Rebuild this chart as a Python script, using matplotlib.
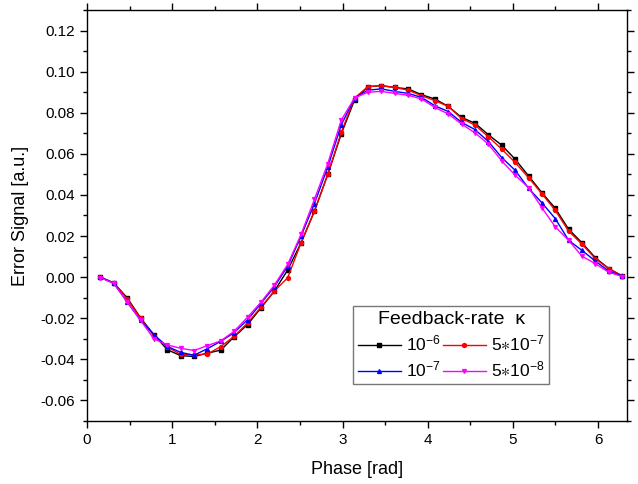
import numpy as np
import matplotlib
matplotlib.use("Agg")
import matplotlib.pyplot as plt
from matplotlib.ticker import MultipleLocator

plt.rcParams['font.family'] = ['Liberation Sans', 'DejaVu Sans']
plt.rcParams['mathtext.fontset'] = 'custom'
plt.rcParams['mathtext.rm'] = 'Liberation Sans'
plt.rcParams['mathtext.it'] = 'Liberation Sans:italic'
plt.rcParams['mathtext.fallback'] = 'stix'

phase = np.arange(1, 41) * np.pi / 20

k_1e6 = [0.000, -0.0028, -0.010, -0.0198, -0.028, -0.0353, -0.0382, -0.0386, -0.037, -0.0355,
         -0.029, -0.0231, -0.015, -0.0068, 0.0035, 0.0167, 0.0322, 0.0501, 0.0696, 0.0863,
         0.0927, 0.0932, 0.0923, 0.0916, 0.0888, 0.0867, 0.0831, 0.0777, 0.0749, 0.0693,
         0.0642, 0.0574, 0.0493, 0.0411, 0.0335, 0.0233, 0.0167, 0.0094, 0.0042, 0.0006]
k_5e7 = [0.000, -0.0028, -0.0105, -0.020, -0.0285, -0.034, -0.0376, -0.0378, -0.0374, -0.0338,
         -0.0288, -0.0223, -0.0146, -0.0068, -0.0003, 0.0167, 0.032, 0.050, 0.0704, 0.0872,
         0.0927, 0.0932, 0.0923, 0.091, 0.0883, 0.0859, 0.0831, 0.0772, 0.074, 0.0683,
         0.0623, 0.0558, 0.0484, 0.0406, 0.0325, 0.0224, 0.016, 0.009, 0.004, 0.0006]
k_1e7 = [0.000, -0.003, -0.012, -0.021, -0.028, -0.0337, -0.0366, -0.038, -0.0348, -0.0312,
         -0.027, -0.0207, -0.0128, -0.0047, 0.0054, 0.020, 0.0358, 0.0537, 0.074, 0.0872,
         0.091, 0.0916, 0.0904, 0.0894, 0.0875, 0.0834, 0.0806, 0.0753, 0.0718, 0.066,
         0.0582, 0.052, 0.0433, 0.0362, 0.0285, 0.0179, 0.013, 0.0078, 0.0029, 0.0006]
k_5e8 = [-0.0003, -0.003, -0.012, -0.021, -0.030, -0.033, -0.0346, -0.0357, -0.0333, -0.031,
         -0.0263, -0.0195, -0.0122, -0.0039, 0.0062, 0.0208, 0.0379, 0.0553, 0.0764, 0.0872,
         0.0900, 0.0904, 0.0894, 0.0885, 0.0867, 0.0826, 0.0794, 0.0745, 0.0702, 0.0647,
         0.0566, 0.0496, 0.0436, 0.0338, 0.0245, 0.0179, 0.0102, 0.0065, 0.0024, 0.0003]

labels = [r'$\mathregular{10^{-6}}$', r'$\mathregular{5{\ast}10^{-7}}$',
          r'$\mathregular{10^{-7}}$', r'$\mathregular{5{\ast}10^{-8}}$']
colors = ['black', 'red', 'blue', 'magenta']
markers = ['s', 'o', '^', 'v']
yticks = [-0.06, -0.04, -0.02, 0.00, 0.02, 0.04, 0.06, 0.08, 0.10, 0.12]

fig = plt.figure(figsize=(6.38, 4.84), dpi=100)
ax = fig.add_axes([87/638, (484-421)/484, 540/638, 411/484])

series = [k_1e6, k_5e7, k_1e7, k_5e8]
handles = []
for ys, c, m, lab in zip(series, colors, markers, labels):
    h, = ax.plot(phase, ys, color=c, marker=m, markersize=2.8, linewidth=1.0, label=lab)
    handles.append(h)

ax.set_xlim(0, 6.34)
ax.set_ylim(-0.07, 0.13)
ax.xaxis.set_major_locator(MultipleLocator(1))
ax.xaxis.set_minor_locator(MultipleLocator(0.5))
ax.set_yticks(yticks)
ax.set_yticklabels(['%.2f' % v for v in yticks])
ax.yaxis.set_minor_locator(MultipleLocator(0.01))
ax.tick_params(which='both', direction='out', top=True, right=True, labelsize=11, width=1.0)
ax.tick_params(which='major', length=5)
ax.tick_params(which='minor', length=3)
for s in ax.spines.values():
    s.set_linewidth(1.0)

ax.set_xlabel('Phase [rad]', fontsize=13, labelpad=10)
ax.set_ylabel('Error Signal [a.u.]', fontsize=13, labelpad=8)

order = [0, 2, 1, 3]
leg = ax.legend(handles=[handles[i] for i in order], ncol=2, title='Feedback-rate  κ',
                fontsize=12.5, title_fontsize=14, loc='lower left',
                bbox_to_anchor=(0.493, 0.09), borderaxespad=0,
                frameon=True, fancybox=False, edgecolor='#555555', handlelength=2.5,
                columnspacing=0.1, handletextpad=0.3, borderpad=0.25, labelspacing=0.35)
leg.get_frame().set_linewidth(1.0)

fig.savefig('out.png', dpi=100)
